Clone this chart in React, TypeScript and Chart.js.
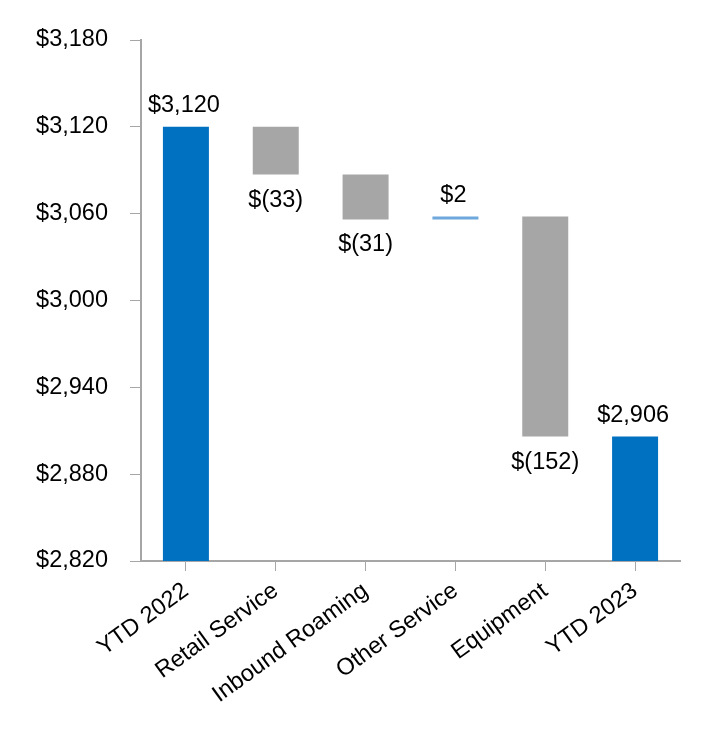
import React, { useEffect, useRef } from "react";
import { Chart, registerables } from "chart.js";

Chart.register(...registerables);

const categories = ["YTD 2022", "Retail Service", "Inbound Roaming", "Other Service", "Equipment", "YTD 2023"];
const changes = [3120, -33, -31, 2, -152, 2906];
const isTotal = [true, false, false, false, false, true];
const yTicks = [2820, 2880, 2940, 3000, 3060, 3120, 3180];

const BLUE = "#0070C0";
const GRAY = "#A6A6A6";
const LIGHT = "#6FA8DC";
const AXIS = "#A6A6A6";
const FONT = "'Liberation Sans', Arial, sans-serif";
const FS = 23.5;

const fmtTotal = (v: number) => "$" + v.toLocaleString("en-US");
const fmtDelta = (v: number) => (v < 0 ? "$(" + Math.abs(v) + ")" : "$" + v);

export default function App() {
  const ref = useRef<HTMLCanvasElement>(null);
  useEffect(() => {
    if (!ref.current) return;
    let running = 0;
    const data: any[] = [];
    const colors: string[] = [];
    const labels: string[] = [];
    changes.forEach((v, i) => {
      if (isTotal[i]) {
        data.push(v);
        running = v;
        colors.push(BLUE);
        labels.push(fmtTotal(v));
      } else {
        const start = running;
        running = running + v;
        data.push([start, running]);
        colors.push(v < 0 ? GRAY : LIGHT);
        labels.push(fmtDelta(v));
      }
    });

    const labelPlugin = {
      id: "wfLabels",
      afterDatasetsDraw(chart: any) {
        const ctx = chart.ctx;
        const meta = chart.getDatasetMeta(0);
        ctx.save();
        ctx.font = `${FS}px ${FONT}`;
        ctx.fillStyle = "#000";
        ctx.textAlign = "center";
        ctx.textBaseline = "alphabetic";
        meta.data.forEach((el: any, i: number) => {
          const top = Math.min(el.y, el.base);
          const bottom = Math.max(el.y, el.base);
          if (isTotal[i] || changes[i] > 0) {
            ctx.fillText(labels[i], el.x - 2, top - 15);
          } else {
            ctx.fillText(labels[i], el.x, bottom + 32);
          }
        });
        ctx.restore();
      },
    };

    const chart = new Chart(ref.current, {
      type: "bar",
      data: {
        labels: categories,
        datasets: [
          {
            data,
            backgroundColor: colors,
            borderWidth: 0,
            barPercentage: 0.512,
            categoryPercentage: 1,
          },
        ],
      },
      options: {
        animation: false,
        responsive: false,
        maintainAspectRatio: false,
        layout: { padding: { top: 40, right: 40, left: 0, bottom: 0 } },
        plugins: { legend: { display: false }, tooltip: { enabled: false } },
        scales: {
          x: {
            grid: {
              display: true,
              drawOnChartArea: false,
              drawTicks: true,
              tickLength: 10,
              color: AXIS,
              offset: false,
            },
            border: { color: AXIS, width: 2 },
            ticks: {
              color: "#000",
              font: { family: FONT, size: FS },
              maxRotation: 36,
              minRotation: 36,
              padding: 6,
              autoSkip: false,
            },
            afterFit(scale: any) {
              scale.height = 185;
            },
          },
          y: {
            min: 2820,
            max: 3180,
            afterBuildTicks(scale: any) {
              scale.ticks = yTicks.map((v) => ({ value: v }));
            },
            grid: {
              display: true,
              drawOnChartArea: false,
              drawTicks: true,
              tickLength: 11,
              color: AXIS,
            },
            border: { color: AXIS, width: 2 },
            ticks: {
              color: "#000",
              font: { family: FONT, size: FS },
              padding: 22,
              callback: (v: any) => "$" + Number(v).toLocaleString("en-US"),
            },
            afterFit(scale: any) {
              scale.width = 141;
            },
          },
        },
      },
      plugins: [labelPlugin],
    });
    return () => chart.destroy();
  }, []);

  return (
    <div style={{ position: "fixed", left: 0, top: 0, width: 720, height: 746, background: "#fff" }}>
      <canvas ref={ref} width={720} height={746} style={{ width: 720, height: 746 }} />
    </div>
  );
}
